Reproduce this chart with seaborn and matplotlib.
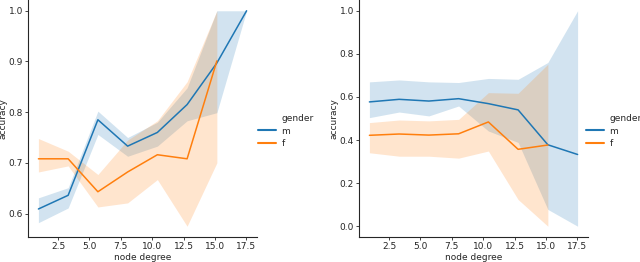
import numpy as np
import pandas as pd
import matplotlib
matplotlib.use("Agg")
import matplotlib.pyplot as plt
import seaborn as sns
from matplotlib.lines import Line2D

# ---- data ----
node_degree = [0.93, 3.30, 5.67, 8.04, 10.41, 12.78, 15.15, 17.52]

# left panel
left_m = [0.609, 0.636, 0.785, 0.733, 0.760, 0.815, 0.897, 1.000]
left_m_lo = [0.582, 0.611, 0.756, 0.713, 0.733, 0.783, 0.799, 1.000]
left_m_hi = [0.631, 0.651, 0.802, 0.750, 0.780, 0.848, 1.000, 1.000]
left_f = [0.708, 0.708, 0.643, 0.682, 0.716, 0.708, 0.901]
left_f_lo = [0.682, 0.694, 0.613, 0.621, 0.667, 0.575, 0.700]
left_f_hi = [0.748, 0.723, 0.677, 0.745, 0.783, 0.860, 1.000]

# right panel
right_m = [0.577, 0.589, 0.581, 0.592, 0.569, 0.540, 0.378, 0.333]
right_m_lo = [0.504, 0.530, 0.512, 0.558, 0.442, 0.389, 0.078, 0.000]
right_m_hi = [0.670, 0.679, 0.670, 0.667, 0.686, 0.682, 0.760, 1.000]
right_f = [0.422, 0.428, 0.423, 0.429, 0.484, 0.357, 0.377]
right_f_lo = [0.341, 0.325, 0.325, 0.316, 0.349, 0.124, 0.000]
right_f_hi = [0.481, 0.493, 0.489, 0.496, 0.620, 0.617, 0.752]

genders = ["m", "f"]
colors = {"m": "#1f77b4", "f": "#ff7f0e"}

sns.set_style("ticks")
plt.rcParams["font.family"] = ["DejaVu Sans"]
FS = 6.5

fig = plt.figure(figsize=(6.4, 2.62), dpi=100)
ax1 = fig.add_axes([28 / 640, 25 / 262, 229 / 640, 237 / 262])
ax2 = fig.add_axes([359 / 640, 25 / 262, 229 / 640, 237 / 262])


def panel(ax, m, mlo, mhi, f, flo, fhi, leg_x):
    df = pd.DataFrame({
        "node degree": node_degree[:len(m)] + node_degree[:len(f)],
        "accuracy": m + f,
        "gender": ["m"] * len(m) + ["f"] * len(f),
    })
    sns.lineplot(data=df, x="node degree", y="accuracy", hue="gender",
                 hue_order=genders, palette=colors, errorbar=None,
                 linewidth=1.1, ax=ax, legend=False)
    ax.fill_between(node_degree[:len(m)], mlo, mhi, color=colors["m"],
                    alpha=0.2, linewidth=0)
    ax.fill_between(node_degree[:len(f)], flo, fhi, color=colors["f"],
                    alpha=0.2, linewidth=0)
    sns.despine(ax=ax)
    ax.set_xticks([2.5, 5.0, 7.5, 10.0, 12.5, 15.0, 17.5])
    ax.tick_params(labelsize=FS, length=2.5, width=0.6, pad=1.2)
    ax.set_xlabel("node degree", fontsize=FS, labelpad=1)
    ax.set_ylabel("accuracy", fontsize=FS, labelpad=0.5)
    for s in ax.spines.values():
        s.set_linewidth(0.8)
    handles = [Line2D([], [], color="none"),
               Line2D([], [], color=colors["m"], lw=1.5),
               Line2D([], [], color=colors["f"], lw=1.5)]
    leg = fig.legend(handles, ["gender", "m", "f"], loc="center left",
                     bbox_to_anchor=(leg_x, 0.50), frameon=False,
                     fontsize=FS, handlelength=2.0, handletextpad=0.6,
                     labelspacing=0.35, borderaxespad=0.0, borderpad=0.2)
    return leg


panel(ax1, left_m, left_m_lo, left_m_hi, left_f, left_f_lo, left_f_hi,
      256 / 640)
ax1.set_yticks([0.6, 0.7, 0.8, 0.9, 1.0])
panel(ax2, right_m, right_m_lo, right_m_hi, right_f, right_f_lo, right_f_hi,
      584 / 640)
ax2.set_yticks([0.0, 0.2, 0.4, 0.6, 0.8, 1.0])

fig.savefig("out.png", dpi=100)
